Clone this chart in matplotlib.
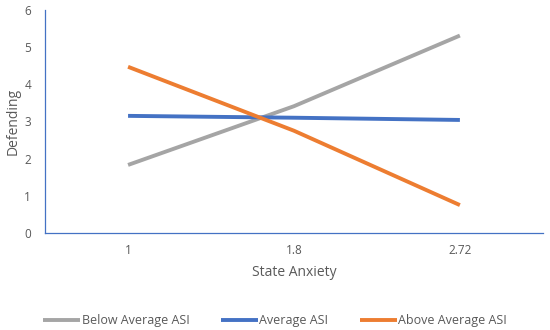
import numpy as np
import matplotlib.pyplot as plt

# data
categories = ['1', '1.8', '2.72']
below_avg = [1.83, 3.41, 5.31]
average = [3.15, 3.10, 3.04]
above_avg = [4.47, 2.75, 0.75]

series = [
    ('Below Average ASI', below_avg, '#A5A5A5'),
    ('Average ASI', average, '#4472C4'),
    ('Above Average ASI', above_avg, '#ED7D31'),
]

plt.rcParams['font.family'] = ['Open Sans', 'DejaVu Sans']
text_color = '#595959'

fig = plt.figure(figsize=(5.5, 3.3), dpi=100)
ax = fig.add_axes([0.082, 0.294, 0.905, 0.676])

x = np.arange(len(categories))
for name, vals, color in series:
    ax.plot(x, vals, color=color, linewidth=2.8, label=name, solid_capstyle='butt')

ax.set_xlim(-0.5, len(categories) - 0.5)
ax.set_ylim(0, 6)
ax.set_xticks(x)
ax.set_xticklabels(categories)
ax.set_yticks(range(0, 7))

for side in ['top', 'right']:
    ax.spines[side].set_visible(False)
for side in ['left', 'bottom']:
    ax.spines[side].set_color('#4472C4')
    ax.spines[side].set_linewidth(0.9)

ax.tick_params(length=0, labelsize=8.5, colors=text_color, pad=8)
ax.tick_params(axis='y', pad=10)

ax.set_xlabel('State Anxiety', fontsize=10, color=text_color, labelpad=6)
ax.set_ylabel('Defending', fontsize=10, color=text_color, labelpad=3)

fig.legend(loc='lower center', bbox_to_anchor=(0.5, -0.025), ncol=3, frameon=False,
           fontsize=9, labelcolor=text_color, handlelength=3.0, handletextpad=0.1,
           columnspacing=2.5)

fig.savefig('out.png', dpi=100)
